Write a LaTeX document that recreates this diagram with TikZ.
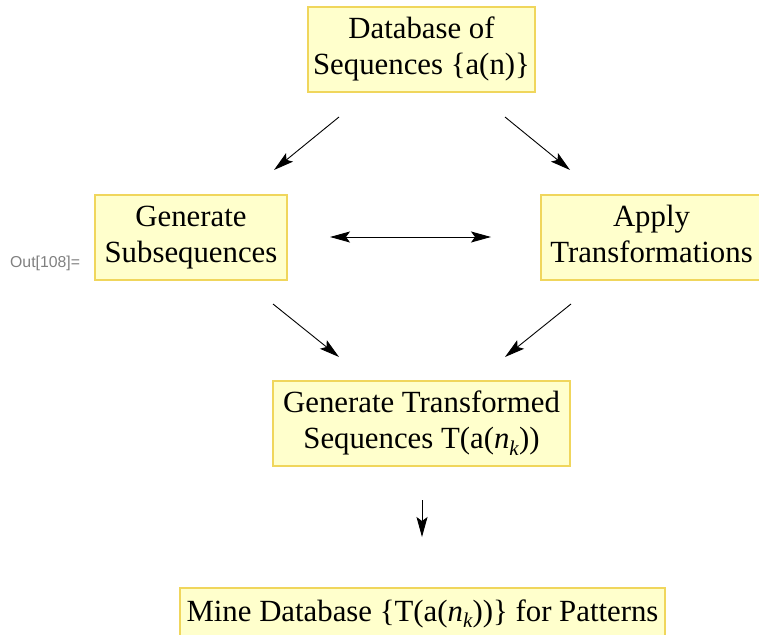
\documentclass[tikz,border=0pt]{standalone}
\usepackage{fontspec}
\setmainfont{Liberation Serif}
\newfontfamily\outfont{Liberation Sans}
\usetikzlibrary{arrows.meta}
\definecolor{boxfill}{RGB}{255,255,204}
\definecolor{boxline}{RGB}{240,214,92}
\definecolor{outgray}{RGB}{128,128,128}
\newcommand{\nk}{\textit{n}\raisebox{-0.22em}{\fontsize{21}{21}\selectfont\textit{k}}}
\begin{document}
\begin{tikzpicture}[x=1pt,y=-1pt,
  flowbox/.style={draw=boxline,fill=boxfill,line width=2pt,inner sep=0pt,
    align=center,font=\fontsize{30.8}{36}\selectfont},
  flowarrow/.style={line width=0.9pt,-{Stealth[length=20pt,width=11pt,inset=4pt]}},
  twoarrow/.style={line width=0.9pt,{Stealth[length=20pt,width=11pt,inset=4pt]}-{Stealth[length=20pt,width=11pt,inset=4pt]}}]
\useasboundingbox (0,0) rectangle (759,634);
\node[flowbox,minimum width=227pt,minimum height=85pt] (db) at (421.5,49.5) {\strut Database of\\\strut Sequences \{a(n)\}};
\node[flowbox,minimum width=192pt,minimum height=85pt] (gs) at (191,237.5) {\strut Generate\\\strut Subsequences};
\node[flowbox,minimum width=221pt,minimum height=85pt] (at) at (651.5,237.5) {\strut Apply\\\strut Transformations};
\node[flowbox,minimum width=297pt,minimum height=85pt] (gt) at (421.5,423.5) {\strut Generate Transformed\\\strut Sequences T(a(\nk))};
\node[flowbox,minimum width=485pt,minimum height=52pt] (md) at (422.5,614) {\strut Mine Database \{T(a(\nk))\} for Patterns};
\node[anchor=base west,font=\outfont\fontsize{15.8}{17}\selectfont,text=outgray,inner sep=0pt] (out) at (10,267) {Out[108]=};
\coordinate (a1s) at (339,117); \coordinate (a1e) at (274,170);
\coordinate (a2s) at (505,117); \coordinate (a2e) at (570,170);
\coordinate (a3s) at (330,237); \coordinate (a3e) at (491,237);
\coordinate (a4s) at (273,304); \coordinate (a4e) at (339,357);
\coordinate (a5s) at (571,304); \coordinate (a5e) at (505,357);
\coordinate (a6s) at (422,500); \coordinate (a6e) at (422,537);
\draw[flowarrow] (a1s) -- (a1e);
\draw[flowarrow] (a2s) -- (a2e);
\draw[twoarrow] (a3s) -- (a3e);
\draw[flowarrow] (a4s) -- (a4e);
\draw[flowarrow] (a5s) -- (a5e);
\draw[flowarrow] (a6s) -- (a6e);
\end{tikzpicture}
\end{document}
